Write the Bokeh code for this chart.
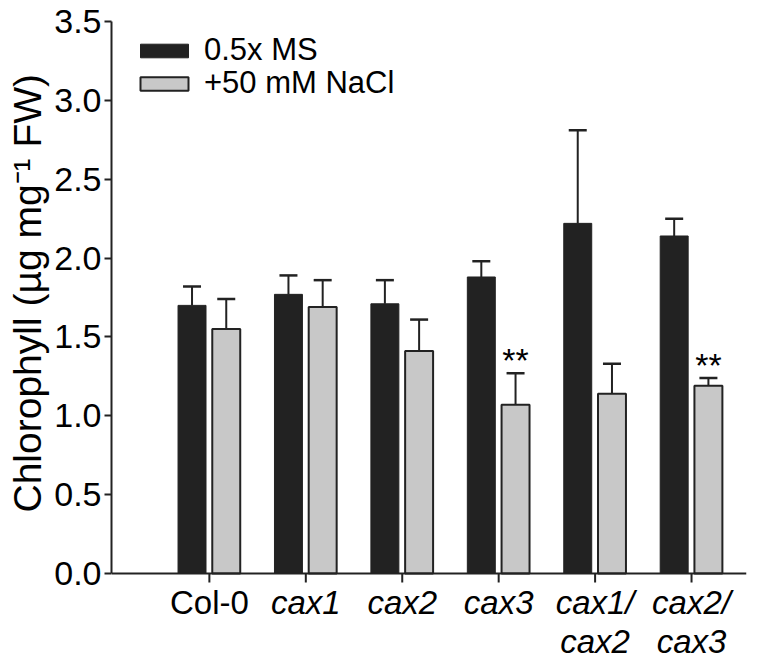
import math
from bokeh.plotting import figure
from bokeh.models import (Range1d, FixedTicker, Whisker, TeeHead, ColumnDataSource, Legend,
                          LegendItem, Span, Title, NumeralTickFormatter)
from bokeh.core.properties import value
from bokeh.embed import file_html
from bokeh.resources import INLINE

# ---- data ----
genotypes = ["Col-0", "cax1", "cax2", "cax3", "cax1/cax2", "cax2/cax3"]
label_line1 = ["Col-0", "cax1", "cax2", "cax3", "cax1/", "cax2/"]
label_line2 = ["", "", "", "", "cax2", "cax3"]
label_italic = [False, True, True, True, True, True]
ms_mean = [1.70, 1.77, 1.71, 1.88, 2.22, 2.14]
ms_err = [0.12, 0.12, 0.15, 0.10, 0.59, 0.11]
nacl_mean = [1.55, 1.69, 1.41, 1.07, 1.14, 1.19]
nacl_err = [0.19, 0.17, 0.20, 0.20, 0.19, 0.05]
nacl_sig = ["", "", "", "**", "", "**"]
y_ticks = [0.0, 0.5, 1.0, 1.5, 2.0, 2.5, 3.0, 3.5]
y_label = "Chlorophyll (\u00b5g mg\u207b\u00b9 FW)"
legend_labels = ["0.5x MS", "+50 mM NaCl"]

FONT = "Liberation Sans"
INK = "#222222"

xs = list(range(1, len(genotypes) + 1))
x_ms = [x - 0.18 for x in xs]
x_na = [x + 0.175 for x in xs]

p = figure(width=760, height=659, output_backend="svg", toolbar_location=None,
           x_range=Range1d(-0.015, 6.57), y_range=Range1d(-0.5453, 3.5),
           x_axis_location=None,
           min_border_left=110, min_border_right=14, min_border_top=21, min_border_bottom=0)
p.outline_line_color = None
p.grid.visible = False
p.background_fill_color = "white"
p.border_fill_color = "white"

src_ms = ColumnDataSource(dict(x=x_ms, top=ms_mean, upper=[m + e for m, e in zip(ms_mean, ms_err)]))
src_na = ColumnDataSource(dict(x=x_na, top=nacl_mean, upper=[m + e for m, e in zip(nacl_mean, nacl_err)],
                               sig=nacl_sig))

r_ms = p.vbar(x="x", top="top", bottom=0, width=0.29, source=src_ms,
              fill_color=INK, line_color=INK, line_width=1)
r_na = p.vbar(x="x", top="top", bottom=0, width=0.29, source=src_na,
              fill_color="#c8c8c8", line_color=INK, line_width=2)

for src in (src_ms, src_na):
    w = Whisker(source=src, base="x", lower="top", upper="upper",
                line_color=INK, line_width=2,
                upper_head=TeeHead(size=18, line_color=INK, line_width=2.5),
                lower_head=None)
    p.add_layout(w)

p.text(x="x", y="upper", text="sig", source=src_na, text_align="center", y_offset=-13,
       text_baseline="alphabetic", text_font=value(FONT), text_font_size="34px",
       text_color="black")

# x axis: baseline + downward ticks
p.add_layout(Span(location=0, dimension="width", line_color=INK, line_width=2))
p.ray(x=xs, y=[0] * len(xs), length=9, length_units="screen", angle=-math.pi / 2,
      line_color=INK, line_width=2)

# x category labels (two lines, italic mutants)
for italic in (False, True):
    d1 = dict(x=[], t=[])
    d2 = dict(x=[], t=[])
    for x, l1, l2, it in zip(xs, label_line1, label_line2, label_italic):
        if it != italic:
            continue
        d1["x"].append(x); d1["t"].append(l1)
        if l2:
            d2["x"].append(x); d2["t"].append(l2)
    for d, off in ((d1, 29), (d2, 68)):
        if d["x"]:
            p.text(x=d["x"], y=[0] * len(d["x"]), text=d["t"], y_offset=off,
                   text_align="center", text_baseline="alphabetic",
                   text_font=value(FONT), text_font_size="33px", text_color="black",
                   text_font_style="italic" if italic else "normal")

# y axis
p.yaxis.bounds = (0, 3.5)
p.yaxis.ticker = FixedTicker(ticks=y_ticks)
p.yaxis.formatter = NumeralTickFormatter(format="0.0")
p.yaxis.minor_tick_line_color = None
p.yaxis.major_tick_in = 0
p.yaxis.major_tick_out = 7
p.yaxis.major_tick_line_width = 2
p.yaxis.major_tick_line_color = INK
p.yaxis.axis_line_width = 2
p.yaxis.axis_line_color = INK
p.yaxis.major_label_text_font = FONT
p.yaxis.major_label_text_font_size = "34px"
p.yaxis.major_label_text_color = "black"
p.yaxis.major_label_standoff = 3

p.add_layout(Title(text=y_label, align="left", offset=147, vertical_align="bottom",
                   text_font=FONT, text_font_size="39px", text_font_style="normal",
                   text_color="black", standoff=6), "left")

for i, (lab, r) in enumerate(zip(legend_labels, (r_ms, r_na))):
    lg = Legend(items=[LegendItem(label=lab, renderers=[r])],
                location=(23, 591 - 33 * i), orientation="vertical",
                glyph_width=60, glyph_height=17, label_standoff=10, spacing=0,
                padding=0, margin=0, border_line_color=None, background_fill_alpha=0,
                label_text_font=FONT, label_text_font_size="31px", label_text_color="black")
    p.add_layout(lg)

open("out.html", "w").write(file_html(p, INLINE))
